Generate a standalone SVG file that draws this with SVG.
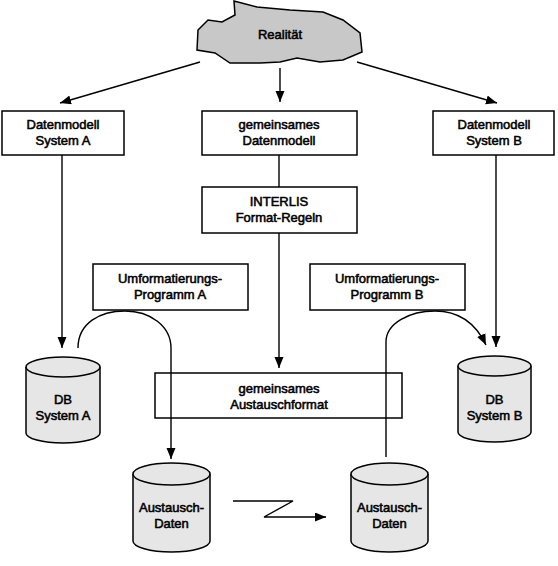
<svg xmlns="http://www.w3.org/2000/svg" width="558" height="566" viewBox="0 0 558 566">
<style>
.box{fill:none;stroke:#000;stroke-width:1.5}
.cyl{fill:#e6e6e6;stroke:#000;stroke-width:1.5}
.t{font-family:"Liberation Sans",Arial,sans-serif;font-size:13px;text-anchor:middle;fill:#000;stroke:#000;stroke-width:0.55}
.c{fill:none;stroke:#000;stroke-width:1.4}
</style>
<defs>
<marker id="ah" markerUnits="userSpaceOnUse" markerWidth="12" markerHeight="10" refX="11" refY="4.5" orient="auto">
<path d="M0,0 L11,4.5 L0,9 z" fill="#000"/>
</marker>
</defs>
<rect width="558" height="566" fill="#fff"/>
<g id="realitaet">
<path d="M234,1 L257,7 L290,10 L323,12 L343,20 L360,33 L362,52 L343,60 L320,62 L297,58 L280,62 L260,63 L230,63 L215,53 L197,50 L198,30 L208,20 L222,22 L235,15 Z" fill="#c8c8c8" stroke="#000" stroke-width="1.5"/>
<text class="t" x="280" y="39">Realität</text>
</g>
<g id="dm-a">
<rect class="box" x="2" y="111" width="122" height="44"/>
<text class="t" x="63" y="129">Datenmodell</text>
<text class="t" x="63" y="145">System A</text>
</g>
<g id="dm-common">
<rect class="box" x="202" y="111" width="155" height="44"/>
<text class="t" x="279" y="129">gemeinsames</text>
<text class="t" x="279" y="145">Datenmodell</text>
</g>
<g id="dm-b">
<rect class="box" x="433" y="111" width="121" height="44"/>
<text class="t" x="494" y="129">Datenmodell</text>
<text class="t" x="494" y="145">System B</text>
</g>
<g id="interlis">
<rect class="box" x="202" y="187" width="155" height="46"/>
<text class="t" x="279" y="206">INTERLIS</text>
<text class="t" x="279" y="222">Format-Regeln</text>
</g>
<g id="umf-a">
<rect class="box" x="93" y="264" width="155" height="46"/>
<text class="t" x="170" y="283">Umformatierungs-</text>
<text class="t" x="170" y="299">Programm A</text>
</g>
<g id="umf-b">
<rect class="box" x="310" y="264" width="155" height="46"/>
<text class="t" x="387" y="283">Umformatierungs-</text>
<text class="t" x="387" y="299">Programm B</text>
</g>
<g id="austauschformat">
<rect class="box" x="155" y="373" width="247" height="45"/>
<text class="t" x="279" y="393">gemeinsames</text>
<text class="t" x="279" y="409">Austauschformat</text>
</g>
<g id="db-a">
<path class="cyl" d="M26,367 L26,433 A37,10 0 0 0 100,433 L100,367"/>
<ellipse class="cyl" cx="63" cy="367" rx="37" ry="10"/>
<text class="t" x="63" y="404">DB</text>
<text class="t" x="63" y="420">System A</text>
</g>
<g id="db-b">
<path class="cyl" d="M458,366 L458,432 A36.5,10 0 0 0 531,432 L531,366"/>
<ellipse class="cyl" cx="494.5" cy="366" rx="36.5" ry="10"/>
<text class="t" x="494.5" y="404">DB</text>
<text class="t" x="494.5" y="420">System B</text>
</g>
<g id="daten-a">
<path class="cyl" d="M133,474 L133,541 A38.5,11 0 0 0 210,541 L210,474"/>
<ellipse class="cyl" cx="171.5" cy="474" rx="38.5" ry="11"/>
<text class="t" x="171.5" y="512">Austausch-</text>
<text class="t" x="171.5" y="528">Daten</text>
</g>
<g id="daten-b">
<path class="cyl" d="M351,474 L351,541 A38.5,11 0 0 0 428,541 L428,474"/>
<ellipse class="cyl" cx="389.5" cy="474" rx="38.5" ry="11"/>
<text class="t" x="389.5" y="512">Austausch-</text>
<text class="t" x="389.5" y="528">Daten</text>
</g>
<g id="connectors">
<line class="c" x1="200" y1="62" x2="60" y2="103" marker-end="url(#ah)"/>
<line class="c" x1="280" y1="68" x2="280" y2="102" marker-end="url(#ah)"/>
<line class="c" x1="357" y1="62" x2="497" y2="103" marker-end="url(#ah)"/>
<line class="c" x1="62" y1="155" x2="62" y2="348" marker-end="url(#ah)"/>
<line class="c" x1="496" y1="155" x2="496" y2="347" marker-end="url(#ah)"/>
<line class="c" x1="279" y1="155" x2="279" y2="187"/>
<line class="c" x1="279" y1="233" x2="279" y2="368" marker-end="url(#ah)"/>
<path class="c" d="M78,348 C78,323 100,311 125,311 C150,311 171,326 171,348 L171,459" marker-end="url(#ah)"/>
<path class="c" d="M386,457 L386,342 C386,323 410,311 435,311 C460,311 476,324 486,345" marker-end="url(#ah)"/>
<path class="c" d="M233,501 L293,501 L264,517 L326,517" marker-end="url(#ah)"/>
</g>
</svg>
